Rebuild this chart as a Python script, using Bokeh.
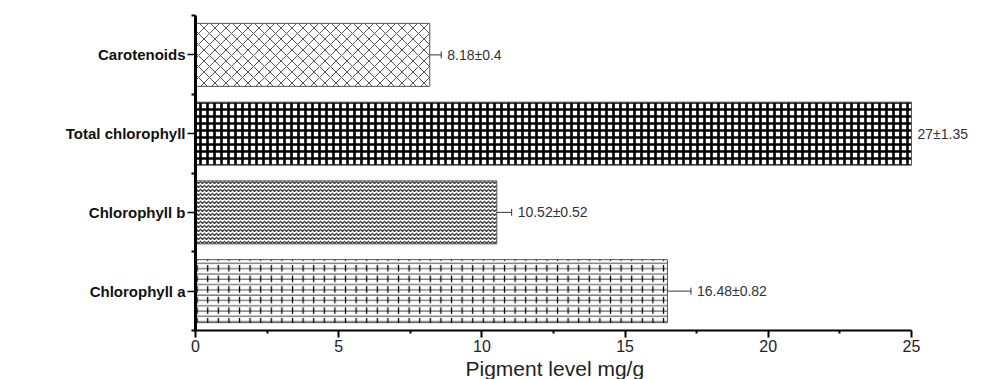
from bokeh.plotting import figure
from bokeh.models import (ColumnDataSource, FixedTicker, Range1d, Whisker, TeeHead, LabelSet, Title)
from bokeh.core.properties import value
from bokeh.embed import file_html
from bokeh.resources import INLINE

# ---- data (bottom to top) ----
categories = ["Chlorophyll a", "Chlorophyll b", "Total chlorophyll", "Carotenoids"]
values = [16.48, 10.52, 27.0, 8.18]
errors = [0.82, 0.52, 1.35, 0.4]
x_ticks = [0, 5, 10, 15, 20, 25]
x_minor = [2.5, 7.5, 12.5, 17.5, 22.5]
x_label = "Pigment level mg/g"
x_end = 25          # end of the drawn axis
x_view_end = 27.69  # visible range extends past axis so outer labels show

# ---- styles ----
hatches = ["-", "v", "+", "x"]
hatch_scales = [5.3, 4, 7, 11]
hatch_weights = [1, 1.5, 2.6, 1]
hatch_colors = ["#444444", "#444444", "#000000", "#555555"]

pos = [i + 0.5 for i in range(len(categories))]
bounds = list(range(len(categories) + 1))
FONT = "Liberation Sans"

p = figure(width=988, height=379, output_backend="svg", toolbar_location=None,
           x_range=Range1d(0, x_view_end), y_range=Range1d(0, len(categories)),
           min_border_left=195, min_border_right=0, min_border_top=15, min_border_bottom=0)
p.outline_line_color = None
p.xgrid.visible = False
p.ygrid.visible = False
p.background_fill_color = "white"

src = ColumnDataSource(dict(y=pos, right=[min(v, x_end) for v in values],
                            hatch=hatches, hs=hatch_scales, hw=hatch_weights, hc=hatch_colors))
p.hbar(y="y", right="right", left=0, height=0.8, source=src,
       fill_color="white", line_color="#555555", line_width=1,
       hatch_pattern="hatch", hatch_color="hc",
       hatch_scale="hs", hatch_weight="hw")

# extra layer: vertical joints of the brick pattern (chlorophyll a)
brick = ColumnDataSource(dict(y=[pos[0]], right=[min(values[0], x_end)]))
p.hbar(y="y", right="right", left=0, height=0.8, source=brick,
       fill_alpha=0, line_color=None, hatch_pattern=":", hatch_color="black",
       hatch_scale=10.6, hatch_weight=1.3)

# error bars (only those inside the axis range)
wl = [v - e for v, e in zip(values, errors)]
wu = [v + e for v, e in zip(values, errors)]
keep = [i for i in range(len(values)) if wu[i] <= x_end]
wsrc = ColumnDataSource(dict(y=[pos[i] for i in keep], lower=[wl[i] for i in keep],
                             upper=[wu[i] for i in keep]))
p.add_layout(Whisker(source=wsrc, base="y", lower="lower", upper="upper", dimension="width",
                     line_color="#333333", line_width=1,
                     lower_head=TeeHead(size=7, line_color="#333333", line_width=1),
                     upper_head=TeeHead(size=7, line_color="#333333", line_width=1)))

lsrc = ColumnDataSource(dict(x=[min(u, x_end) for u in wu], y=pos,
                             text=[f"{v:g}±{e:g}" for v, e in zip(values, errors)]))
p.add_layout(LabelSet(x="x", y="y", text="text", source=lsrc, x_offset=6,
                      text_font=value(FONT), text_font_size="14px",
                      text_color="#333333", text_baseline="middle", text_align="left"))

# axes
p.xaxis.bounds = (0, x_end)
p.xaxis.ticker = FixedTicker(ticks=x_ticks, minor_ticks=x_minor)
p.xaxis.major_label_text_font = FONT
p.xaxis.major_label_text_font_size = "16px"
p.xaxis.major_label_text_color = "#222222"
p.xaxis.major_label_standoff = 2
p.xaxis.axis_line_width = 2
p.xaxis.major_tick_line_width = 2
p.xaxis.minor_tick_line_width = 2
p.xaxis.major_tick_out = 7
p.xaxis.major_tick_in = 0
p.xaxis.minor_tick_out = 3
p.xaxis.minor_tick_in = 0

# axis title centred under the drawn axis (0..25)
p.add_layout(Title(text=x_label, align="left", offset=270, text_font=FONT,
                   text_font_size="21px", text_font_style="normal",
                   text_color="#222222", standoff=0), "below")

p.yaxis.ticker = FixedTicker(ticks=pos, minor_ticks=bounds)
p.yaxis.major_label_overrides = {x: c for x, c in zip(pos, categories)}
p.yaxis.major_label_text_font = FONT
p.yaxis.major_label_text_font_size = "15px"
p.yaxis.major_label_text_font_style = "bold"
p.yaxis.major_label_text_color = "#111111"
p.yaxis.major_label_standoff = 2
p.yaxis.axis_line_width = 3
p.yaxis.major_tick_line_width = 1.5
p.yaxis.minor_tick_line_width = 2
p.yaxis.major_tick_out = 8
p.yaxis.major_tick_in = 0
p.yaxis.minor_tick_out = 4
p.yaxis.minor_tick_in = 0

open("out.html", "w").write(file_html(p, INLINE))
